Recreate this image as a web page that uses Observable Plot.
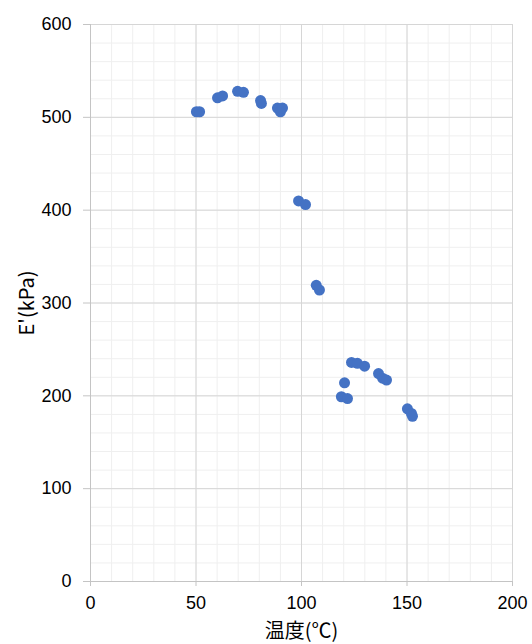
<!DOCTYPE html>
<html>
<head>
<meta charset="utf-8">
<script src="https://cdn.jsdelivr.net/npm/d3@7"></script>
<script src="https://cdn.jsdelivr.net/npm/@observablehq/plot@0.6"></script>
<style>
  html, body { margin: 0; padding: 0; background: #fff; }
  #chart { width: 532px; height: 644px; }
  #chart svg g[aria-label="x-axis label"] text,
  #chart svg g[aria-label="y-axis label"] text { font-family: 'Noto Sans CJK JP', sans-serif; font-size: 20px; }
</style>
</head>
<body>
<div id="chart"></div>
<script>
const temperature = [50.2, 51.7, 60.2, 62.6, 69.7, 72.5, 80.6, 81.0, 88.6, 90.0, 91.0, 98.6, 101.9, 107.0, 108.5, 123.7, 126.5, 129.9, 120.4, 118.9, 121.8, 136.5, 138.4, 140.3, 150.2, 152.1, 152.6];
const modulus     = [506, 506, 521, 523, 528, 527, 518, 515, 510, 506, 510, 410, 406, 319, 314, 236, 235, 232, 214, 199, 197, 224, 219, 217, 186, 181, 178];
const xTicks = [0, 50, 100, 150, 200];
const yTicks = [0, 100, 200, 300, 400, 500, 600];
const xMinor = d3.range(0, 201, 10);
const yMinor = d3.range(0, 601, 20);

const data = temperature.map((t, i) => ({t, e: modulus[i]}));
const font = "'Liberation Sans', Arial, 'Noto Sans CJK JP', sans-serif";

const chart = Plot.plot({
  width: 532,
  height: 644,
  marginLeft: 90,
  marginRight: 20,
  marginTop: 24,
  marginBottom: 63,
  style: {fontFamily: font, fontSize: "18px", color: "#000", background: "#fff"},
  x: {domain: [0, 200]},
  y: {domain: [0, 600]},
  marks: [
    Plot.gridX(xMinor, {stroke: "#efefef", strokeOpacity: 1, strokeWidth: 1}),
    Plot.gridY(yMinor, {stroke: "#efefef", strokeOpacity: 1, strokeWidth: 1}),
    Plot.gridX(xTicks, {stroke: "#d6d6d6", strokeOpacity: 1, strokeWidth: 1}),
    Plot.gridY(yTicks, {stroke: "#d6d6d6", strokeOpacity: 1, strokeWidth: 1}),
    Plot.ruleY([0], {stroke: "#c4c4c4", strokeWidth: 1}),
    Plot.ruleX([0], {stroke: "#c4c4c4", strokeWidth: 1}),
    Plot.axisX(xTicks, {tickSize: 5, tickPadding: 10, stroke: "#c4c4c4", fill: "#000", fontSize: 18,
      label: "温度(℃)", labelAnchor: "center", labelArrow: "none", labelOffset: 56}),
    Plot.axisY(yTicks, {tickSize: 7, tickPadding: 12, stroke: "#c4c4c4", fill: "#000", fontSize: 18,
      label: "E'(kPa)", labelAnchor: "center", labelArrow: "none", labelOffset: 71}),
    Plot.dot(data, {x: "t", y: "e", r: 5.5, fill: "#4472C4", stroke: "none"})
  ]
});
document.getElementById("chart").appendChild(chart);
</script>
</body>
</html>
